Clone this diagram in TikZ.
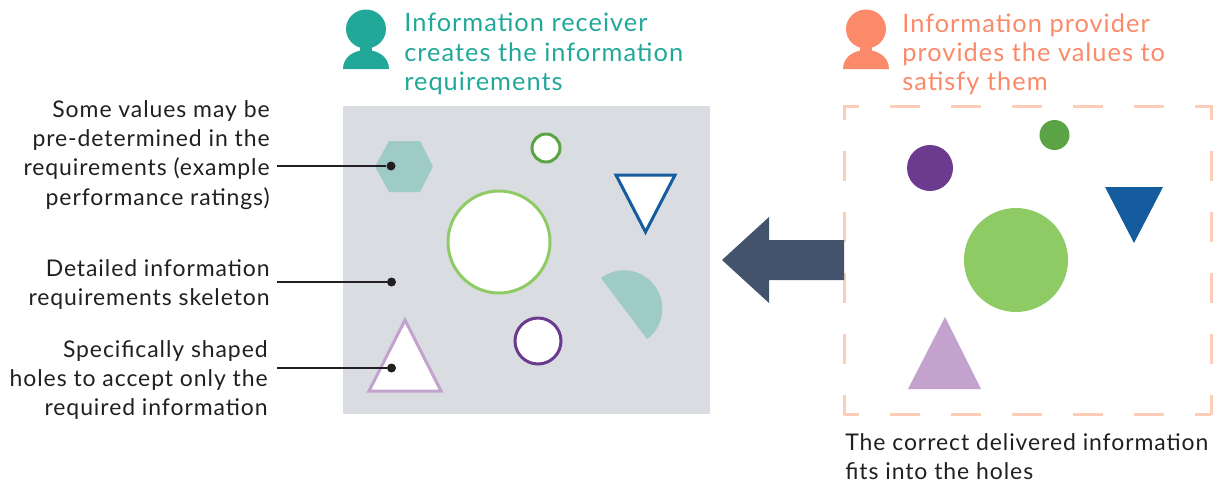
\documentclass[tikz,border=0pt]{standalone}
\usepackage{fontspec}
\usepackage{tikz}
\setmainfont[LetterSpace=4]{Lato}

\definecolor{tealperson}{HTML}{22A899}
\definecolor{coral}{HTML}{FA8A69}
\definecolor{skeleton}{HTML}{D9DCE1}
\definecolor{paleteal}{HTML}{9FCBC6}
\definecolor{leafgreen}{HTML}{5BA344}
\definecolor{lightgreen}{HTML}{8FCB65}
\definecolor{deepblue}{HTML}{155C9E}
\definecolor{deeppurple}{HTML}{6A3B8E}
\definecolor{lilac}{HTML}{C3A3CE}
\definecolor{peach}{HTML}{FDCDB8}
\definecolor{slate}{HTML}{43536B}
\definecolor{ink}{HTML}{231F20}

\tikzset{
	headline/.style={anchor=north west, inner sep=0pt, align=left, font=\fontsize{14.45}{16.6}\selectfont},
	note/.style={inner sep=0pt, text=ink, font=\fontsize{13.08}{16.6}\selectfont},
	hole/.style={fill=white, line width=0.06cm},
	leader/.style={draw=ink, line width=0.04cm},
	dot/.style={circle, fill=ink, inner sep=0pt, minimum size=0.18cm},
	dashbox/.style={draw=peach, line width=0.06cm}
}

\begin{document}
\begin{tikzpicture}[x=0.02cm, y=-0.02cm]

	\useasboundingbox (0,0) rectangle (1217,484);

	% Persons
	\foreach \xc/\col in {366/tealperson, 866/coral} {
		\fill[\col] (\xc,29) ellipse (20 and 19.5);
		\fill[\col] (\xc-6,44) rectangle (\xc+6,54);
		\fill[\col] (\xc-23,69) .. controls (\xc-23,57) and (\xc-12,50) .. (\xc,50)
			.. controls (\xc+12,50) and (\xc+23,57) .. (\xc+23,69) -- cycle;
	}

	% Headlines
	\node[headline, text=tealperson] (receiver) at (404,13) {Information receiver\\creates the information\\requirements};
	\node[headline, text=coral] (provider) at (902,13) {Information provider\\provides the values to\\satisfy them};

	% Skeleton with holes
	\fill[skeleton] (343,106) rectangle (710,414);
	\fill[paleteal] (375,166.5) -- (389,141) -- (420,141) -- (433,166.5) -- (420,192) -- (389,192) -- cycle;
	\draw[hole, draw=leafgreen] (546,148) circle [radius=14];
	\draw[hole, draw=lightgreen] (499,242) circle [radius=51];
	\draw[hole, draw=deepblue] (616,175) -- (675,175) -- (645.5,232) -- cycle;
	\fill[paleteal] (601,278) arc [start angle=233, end angle=413, radius=38.3] -- cycle;
	\draw[hole, draw=deeppurple] (538,341) circle [radius=23];
	\draw[hole, draw=lilac] (405,320) -- (441,391) -- (369,391) -- cycle;

	% Left notes
	\node[note, anchor=east, align=right] (notevalues) at (270,155) {Some values may be\\pre-determined in the\\requirements (example\\performance ratings)};
	\node[note, anchor=east, align=right] (noteskeleton) at (270,284.5) {Detailed information\\requirements skeleton};
	\node[note, anchor=east, align=right] (noteholes) at (268,380) {Specifically shaped\\holes to accept only the\\required information};

	% Leaders
	\node[dot] (dotvalues) at (391,166) {};
	\node[dot] (dotskeleton) at (391.5,282) {};
	\node[dot] (dotholes) at (391.5,368) {};
	\coordinate (startvalues) at (277,166);
	\coordinate (startskeleton) at (277,282);
	\coordinate (startholes) at (277,368);
	\draw[leader] (startvalues) -- (dotvalues);
	\draw[leader] (startskeleton) -- (dotskeleton);
	\draw[leader] (startholes) -- (dotholes);

	% Delivered information
	\draw[dashbox, dash pattern=on 0.6cm off 0.62cm, dash phase=0.3cm] (844,106) -- (1211,106);
	\draw[dashbox, dash pattern=on 0.6cm off 0.62cm, dash phase=0.3cm] (844,414) -- (1211,414);
	\draw[dashbox, dash pattern=on 0.6cm off 0.62cm, dash phase=0.3cm] (844,105) -- (844,415);
	\draw[dashbox, dash pattern=on 0.6cm off 0.62cm, dash phase=0.3cm] (1211,105) -- (1211,415);
	\fill[leafgreen] (1054.5,135) circle [radius=15];
	\fill[deeppurple] (930,168) circle [radius=23];
	\fill[deepblue] (1105,187) -- (1163,187) -- (1134,243) -- cycle;
	\fill[lightgreen] (1016,260) circle [radius=52];
	\fill[lilac] (945,317) -- (981,389) -- (908,389) -- cycle;
	\node[note, anchor=north west, align=left] (notefits) at (845,433) {The correct delivered information\\fits into the holes};

	% Arrow
	\fill[slate] (722,260) -- (769,217) -- (769,240) -- (844,240) -- (844,280) -- (769,280) -- (769,303) -- cycle;

\end{tikzpicture}
\end{document}
